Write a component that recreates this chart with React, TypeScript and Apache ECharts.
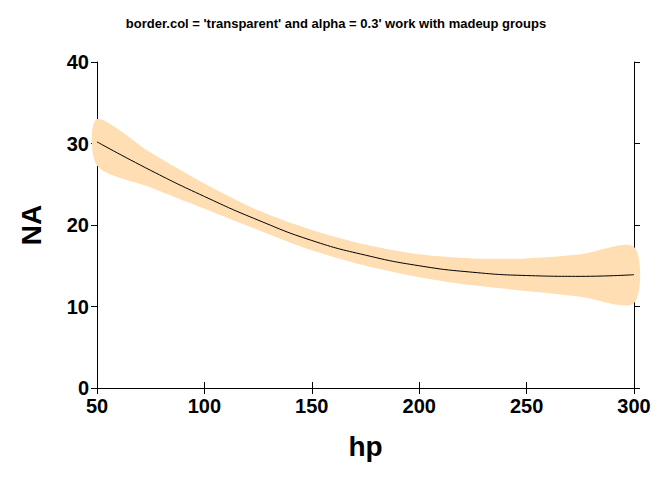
import { useEffect, useRef } from "react";
import * as echarts from "echarts";

const hp = [50, 75, 100, 125, 150, 175, 200, 225, 250, 275, 300];
const fit = [30.2, 26.7, 23.5, 20.6, 18.1, 16.3, 15.0, 14.2, 13.8, 13.7, 13.9];
const lower = [27.3, 24.6, 22.0, 19.4, 16.9, 15.0, 13.6, 12.6, 11.9, 11.2, 10.4];
const upper = [33.0, 28.9, 25.1, 21.8, 19.4, 17.6, 16.4, 15.9, 15.9, 16.4, 17.3];

export default function App() {
  const ref = useRef<HTMLDivElement | null>(null);

  useEffect(() => {
    if (!ref.current) return;
    const chart = echarts.init(ref.current, undefined, { renderer: "svg" });
    const font = "Liberation Sans, Arial, sans-serif";
    const axisCommon = {
      axisLine: { show: true, lineStyle: { color: "#000" } },
      axisTick: { show: true, lineStyle: { color: "#000" }, length: 6 },
      splitLine: { show: false },
    };
    const bandPts = [
      ...hp.map((x, i) => [x, upper[i]]),
      ...hp.map((x, i) => [x, lower[i]]).reverse(),
    ];
    chart.setOption({
      animation: false,
      backgroundColor: "#fff",
      title: {
        text: "border.col = 'transparent' and alpha = 0.3' work with madeup groups",
        left: "center",
        top: 12,
        textStyle: { fontFamily: font, fontSize: 13, fontWeight: "bold", color: "#000" },
      },
      grid: { left: 97, right: 38, top: 62, bottom: 92 },
      xAxis: [
        {
          type: "value", min: 50, max: 300, interval: 50, ...axisCommon,
          axisLabel: { fontFamily: font, fontSize: 20, fontWeight: "bold", color: "#000", margin: 8 },
          name: "hp", nameLocation: "middle", nameGap: 44,
          nameTextStyle: { fontFamily: font, fontSize: 28, fontWeight: "bold", color: "#000" },
        },
        { type: "value", position: "top", min: 50, max: 300, interval: 50, ...axisCommon, axisLabel: { show: false } },
      ],
      yAxis: [
        {
          type: "value", min: 0, max: 40, interval: 10, ...axisCommon,
          axisLabel: { fontFamily: font, fontSize: 20, fontWeight: "bold", color: "#000", margin: 8 },
          name: "NA", nameLocation: "middle", nameGap: 52,
          nameTextStyle: { fontFamily: font, fontSize: 28, fontWeight: "bold", color: "#000" },
        },
        { type: "value", position: "right", min: 0, max: 40, interval: 10, ...axisCommon, axisLabel: { show: false } },
      ],
      series: [
        {
          type: "custom",
          data: [0],
          renderItem: (_params: any, api: any) => ({
            type: "polygon",
            shape: { points: bandPts.map((p) => api.coord(p)), smooth: 0.3 },
            style: { fill: "#FFDEB3" },
          }),
        },
        {
          type: "line", smooth: true, symbol: "none",
          data: hp.map((x, i) => [x, fit[i]]),
          lineStyle: { color: "#000", width: 1 },
        },
      ],
    });
    return () => chart.dispose();
  }, []);

  return <div ref={ref} style={{ position: "absolute", left: 0, top: 0, width: 672, height: 480 }} />;
}
